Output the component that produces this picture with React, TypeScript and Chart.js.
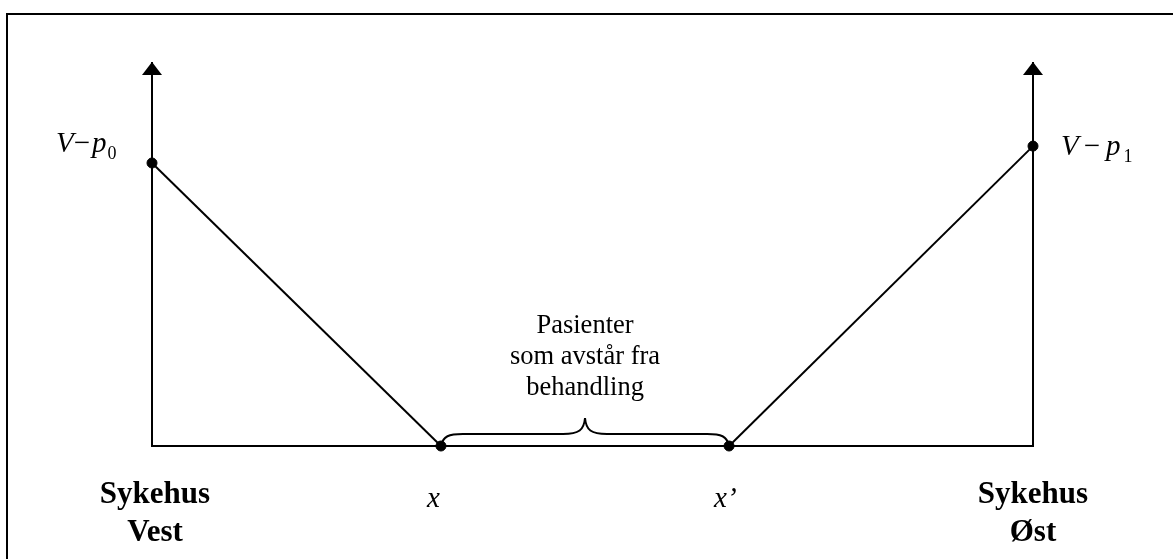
import React, { useEffect, useRef } from "react";
import { Chart, registerables } from "chart.js";

Chart.register(...registerables);

// Positions along the road: 0 = Sykehus Vest, 1 = Sykehus Øst
const hospitalNames = [["Sykehus", "Vest"], ["Sykehus", "Øst"]];
const hospitalPos = [0, 1];
const netUtility = [0.737, 0.781]; // V - p0, V - p1 (axis top = 1)
const indifferentPos = [0.328, 0.655]; // x, x'
const indifferentLabels = ["x", "x’"];
const utilityLabels = [["V", "p", "0"], ["V", "p", "1"]];
const braceLabel = ["Pasienter", "som avstår fra", "behandling"];
const axisTop = 1;

const SERIF = "'Liberation Serif', 'Times New Roman', serif";

const overlay = {
  id: "overlay",
  afterDatasetsDraw(chart: any) {
    const ctx = chart.ctx;
    const xs = chart.scales.x;
    const ys = chart.scales.y;
    const px = (v: number) => xs.getPixelForValue(v);
    const py = (v: number) => ys.getPixelForValue(v);
    ctx.save();
    ctx.fillStyle = "#000";
    ctx.strokeStyle = "#000";

    // frame (extends beyond the picture on right and bottom)
    ctx.lineWidth = 2;
    ctx.strokeRect(7, 14, 1300, 700);

    // arrowheads
    hospitalPos.forEach((h) => {
      const tx = px(h);
      const ty = py(axisTop);
      ctx.beginPath();
      ctx.moveTo(tx, ty);
      ctx.lineTo(tx - 10, ty + 13);
      ctx.lineTo(tx + 10, ty + 13);
      ctx.closePath();
      ctx.fill();
    });

    // brace
    const x0 = px(indifferentPos[0]);
    const x1 = px(indifferentPos[1]);
    const yb = py(0);
    const mid = (x0 + x1) / 2;
    const yt = yb - 12;
    const tip = yb - 28;
    ctx.lineWidth = 2;
    ctx.beginPath();
    ctx.moveTo(x0, yb);
    ctx.bezierCurveTo(x0 + 2, yt + 2, x0 + 8, yt, x0 + 22, yt);
    ctx.lineTo(mid - 22, yt);
    ctx.bezierCurveTo(mid - 6, yt, mid - 1, yt - 4, mid, tip);
    ctx.bezierCurveTo(mid + 1, yt - 4, mid + 6, yt, mid + 22, yt);
    ctx.lineTo(x1 - 22, yt);
    ctx.bezierCurveTo(x1 - 8, yt, x1 - 2, yt + 2, x1, yb);
    ctx.stroke();

    // brace text
    ctx.textAlign = "center";
    ctx.textBaseline = "alphabetic";
    ctx.font = `26.5px ${SERIF}`;
    braceLabel.forEach((t, i) => ctx.fillText(t, mid, yb - 113 + i * 31));

    // hospital names
    ctx.font = `bold 31px ${SERIF}`;
    hospitalNames.forEach((lines, i) => {
      const cx = px(hospitalPos[i]) + (i === 0 ? 3 : 0);
      lines.forEach((t, j) => ctx.fillText(t, cx, yb + 57 + j * 38));
    });

    // x, x'
    ctx.font = `italic 29px ${SERIF}`;
    ctx.textAlign = "left";
    indifferentLabels.forEach((t, i) => {
      const cx = px(indifferentPos[i]) - (i === 0 ? 14 : 15);
      ctx.fillText(t, cx, yb + 61);
    });

    // utility labels
    utilityLabels.forEach((parts, i) => {
      const ax = px(hospitalPos[i]);
      const ay = py(netUtility[i]);
      let x = i === 0 ? ax - 96 : ax + 28;
      const base = ay + (i === 0 ? -11 : 9);
      ctx.font = `italic 29px ${SERIF}`;
      ctx.fillText(parts[0], x, base);
      x += ctx.measureText(parts[0]).width + (i === 0 ? 0 : 5);
      ctx.font = `29px ${SERIF}`;
      ctx.fillText("−", x, base);
      x += ctx.measureText("−").width + (i === 0 ? 2 : 6);
      ctx.font = `italic 29px ${SERIF}`;
      ctx.fillText(parts[1], x, base);
      x += ctx.measureText(parts[1]).width + (i === 0 ? 1 : 3);
      ctx.font = `18px ${SERIF}`;
      ctx.fillText(parts[2], x, base + 7);
    });

    ctx.restore();
  },
};

export default function App() {
  const ref = useRef<HTMLCanvasElement | null>(null);
  useEffect(() => {
    if (!ref.current) return;
    const chart = new Chart(ref.current, {
      type: "scatter",
      data: {
        datasets: [
          {
            data: [
              { x: hospitalPos[0], y: axisTop },
              { x: hospitalPos[0], y: 0 },
              { x: hospitalPos[1], y: 0 },
              { x: hospitalPos[1], y: axisTop },
            ],
            showLine: true,
            borderColor: "#000",
            borderWidth: 2,
            pointRadius: 0,
            clip: false,
          } as any,
          {
            data: [
              { x: hospitalPos[0], y: netUtility[0] },
              { x: indifferentPos[0], y: 0 },
            ],
            showLine: true,
            borderColor: "#000",
            borderWidth: 2,
            pointRadius: 0,
            clip: false,
          } as any,
          {
            data: [
              { x: indifferentPos[1], y: 0 },
              { x: hospitalPos[1], y: netUtility[1] },
            ],
            showLine: true,
            borderColor: "#000",
            borderWidth: 2,
            pointRadius: 0,
            clip: false,
          } as any,
          {
            data: [
              { x: hospitalPos[0], y: netUtility[0] },
              { x: indifferentPos[0], y: 0 },
              { x: indifferentPos[1], y: 0 },
              { x: hospitalPos[1], y: netUtility[1] },
            ],
            showLine: false,
            pointRadius: 5,
            pointBackgroundColor: "#000",
            pointBorderColor: "#000",
            clip: false,
          } as any,
        ],
      },
      options: {
        animation: false,
        responsive: false,
        maintainAspectRatio: false,
        layout: { padding: { left: 152, right: 140, top: 62, bottom: 113 } },
        scales: {
          x: { type: "linear", min: 0, max: 1, display: false },
          y: { type: "linear", min: 0, max: axisTop, display: false },
        },
        plugins: { legend: { display: false }, tooltip: { enabled: false } },
      },
      plugins: [overlay],
    });
    return () => chart.destroy();
  }, []);
  return (
    <div style={{ position: "absolute", left: 0, top: 0, width: 1173, height: 559, background: "#fff" }}>
      <canvas ref={ref} width={1173} height={559} style={{ display: "block" }} />
    </div>
  );
}
